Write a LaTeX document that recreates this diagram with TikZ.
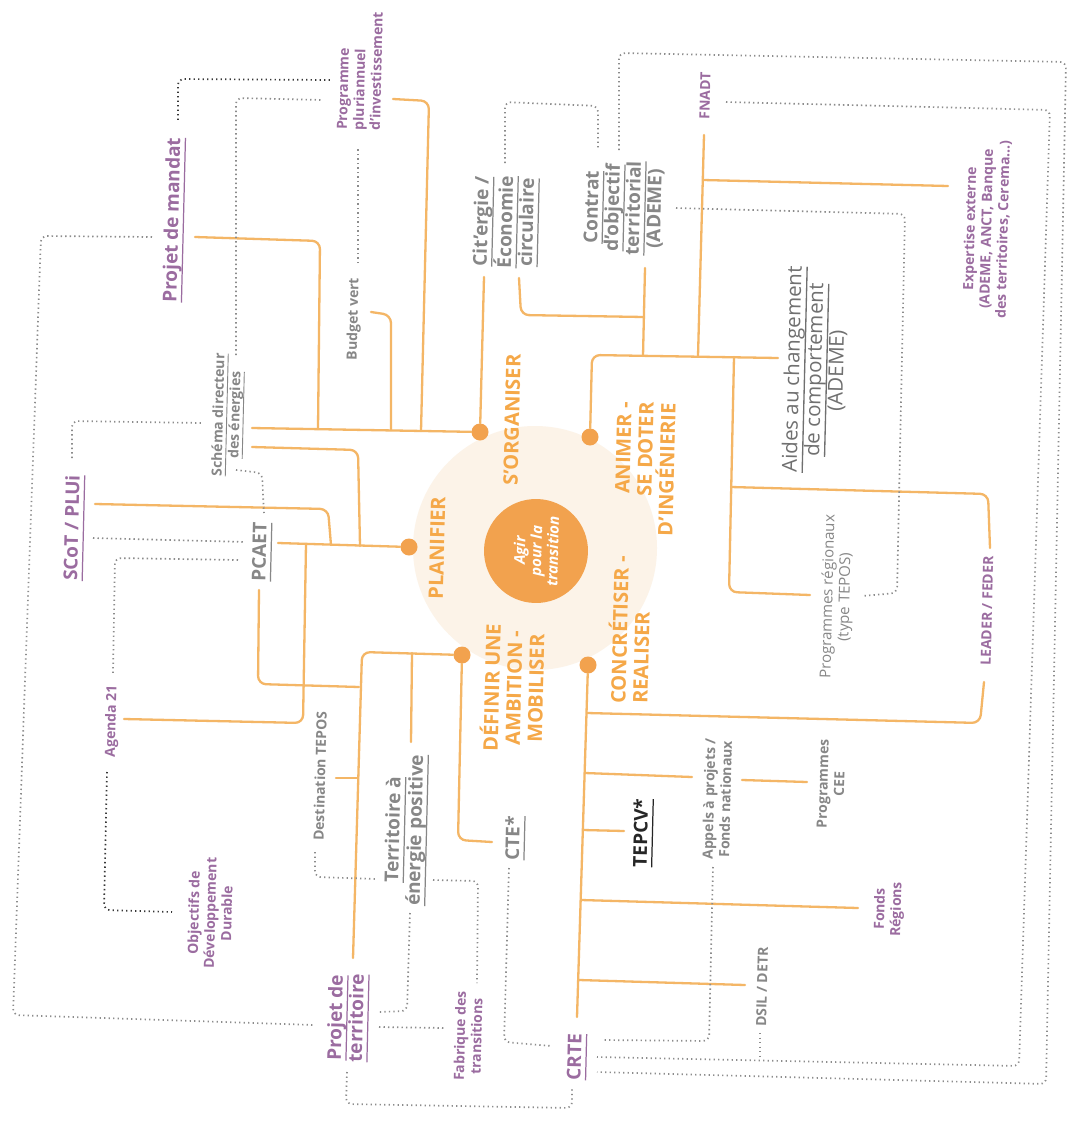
\documentclass[tikz,border=0pt]{standalone}
\usepackage{fontspec}
\setmainfont{Open Sans}
\definecolor{lineor}{RGB}{244,182,102}
\definecolor{hubcol}{RGB}{242,162,78}
\definecolor{hubtxt}{RGB}{245,168,72}
\definecolor{discfill}{RGB}{252,243,232}
\definecolor{purp}{RGB}{155,108,160}
\definecolor{graytxt}{RGB}{135,135,135}
\definecolor{aidestxt}{RGB}{112,112,112}
\definecolor{dotgray}{RGB}{140,140,140}
\definecolor{dotdark}{RGB}{55,55,55}
\newsavebox\ulbox
\newcommand\uln[1]{\sbox\ulbox{#1}\rlap{\rule[-.3em]{\wd\ulbox}{.065em}}\usebox\ulbox}
\begin{document}
\begin{tikzpicture}[x=1pt,y=-1pt,
  ol/.style={draw=lineor,line width=2.3pt,rounded corners=8pt,line cap=round},
  dl/.style={draw=dotgray,line width=1.7pt,dash pattern=on 1.3pt off 3.2pt,rounded corners=6pt},
  kl/.style={dl,draw=dotdark},
  lab/.style={rotate=88.6,inner sep=0pt,anchor=center},
  pbig/.style={lab,text=purp,align=center,font=\fontsize{19}{21}\selectfont\bfseries},
  psmall/.style={lab,text=purp,align=center,font=\fontsize{14}{16.5}\selectfont\bfseries},
  gbig/.style={lab,text=graytxt,align=center,font=\fontsize{19}{21}\selectfont\bfseries},
  gsmall/.style={lab,text=graytxt,align=center,font=\fontsize{14}{16.5}\selectfont\bfseries},
  hubl/.style={lab,text=hubtxt,font=\fontsize{20}{22}\selectfont\bfseries},
  dot/.style={circle,fill=hubcol,minimum size=17pt,inner sep=0pt}
]
\useasboundingbox (0,0) rectangle (1077,1121);
\fill[white] (0,0) rectangle (1077,1121);

% ---------- central hub ----------
\fill[discfill] (535,548) circle (122pt);
\node[circle,fill=hubcol,minimum size=104pt,inner sep=0pt,rotate=88.6,text=white,align=center,
      font=\fontsize{15}{16.5}\selectfont\bfseries\itshape] (hub) at (536,551) {Agir\\pour la\\transition};

\node[dot] (dS) at (480,432) {};
\node[dot] (dA) at (590,437) {};
\node[dot] (dP) at (409,547) {};
\node[dot] (dD) at (462,655) {};
\node[dot] (dC) at (588,665) {};

\node[hubl] (tS) at (512,420) {S'ORGANISER};
\node[hubl] (tP) at (437,548) {PLANIFIER};
\node[hubl,align=right] (tA) at (645,469) {ANIMER -\\SE DOTER\\D'INGÉNIERIE};
\node[hubl,align=left] (tC) at (629,630) {CONCRÉTISER -\\REALISER};
\node[hubl,align=center] (tD) at (512,688) {DÉFINIR UNE\\AMBITION -\\MOBILISER};

% ---------- labels ----------
\node[pbig] (mandat) at (174,220) {\uln{Projet de mandat}};
\node[pbig] (scot) at (74,528) {\uln{SCoT / PLUi}};
\node[pbig] (ptert) at (348,1018) {\uln{Projet de}\\\uln{territoire}};
\node[pbig] (crte) at (577,1057) {\uln{CRTE}};

\node[psmall,align=left] (ppi) at (360,71) {Programme\\pluriannuel\\d'investissement};
\node[psmall] (fnadt) at (705,96) {FNADT};
\node[psmall] (expert) at (987,229) {Expertise externe\\(ADEME, ANCT, Banque\\des territoires, Cerema...)};
\node[psmall] (leader) at (987,611) {LEADER / FEDER};
\node[psmall] (fonds) at (889,909) {Fonds\\Régions};
\node[psmall] (fab) at (468,1036) {Fabrique des\\transitions};
\node[psmall] (odd) at (210,913) {Objectifs de\\Développement\\Durable};
\node[psmall] (agenda) at (112,721) {Agenda 21};

\node[gbig] (pcaet) at (262,552) {\uln{PCAET}};
\node[gbig] (cit) at (506,222) {\uln{Cit'ergie /}\\\uln{Économie}\\\uln{circulaire}};
\node[gbig] (cot) at (624,208) {\uln{Contrat}\\\uln{d'objectif}\\\uln{territorial}\\(ADEME)};
\node[gbig,font=\fontsize{19}{22}\selectfont\bfseries] (tep) at (406,830) {\uln{Territoire à}\\\uln{énergie positive}};
\node[gbig] (cte) at (515,838) {\uln{CTE*}};
\node[lab,text=aidestxt,align=center,font=\fontsize{20.5}{22}\selectfont] (aides) at (815,370)
     {\uln{Aides au changement}\\\uln{de comportement}\\(ADEME)};

\node[gsmall] (sde) at (228,415) {\uln{Schéma directeur}\\\uln{des énergies}};
\node[gsmall] (budget) at (354,319) {Budget vert};
\node[gsmall] (dest) at (320,776) {Destination TEPOS};
\node[gsmall] (appels) at (717,799) {Appels à projets /\\Fonds nationaux};
\node[gsmall] (cee) at (831,784) {Programmes\\CEE};
\node[gsmall] (dsil) at (762,987) {DSIL / DETR};
\node[lab,text=graytxt,align=center,font=\fontsize{15}{17}\selectfont] (progreg) at (837,597)
     {Programmes régionaux\\(type TEPOS)};
\node[lab,text=black!85,font=\fontsize{19}{21}\selectfont\bfseries] (tepcv) at (643,833) {\uln{TEPCV*}};

% ---------- orange branches: S'ORGANISER ----------
\coordinate (sLeft) at (252,428);
\coordinate (mandatEnd) at (195,237);  \coordinate (jMandat) at (318,429);
\coordinate (budgetEnd) at (371,312);  \coordinate (jBudget) at (391,430);
\coordinate (ppiEnd) at (393,99);      \coordinate (jPpi) at (421,431);
\coordinate (citEnd) at (484,277);
\draw[ol] (sLeft) -- (dS);
\draw[ol] (mandatEnd) -- (320,241) -- (jMandat);
\draw[ol] (budgetEnd) -- (391,315) -- (jBudget);
\draw[ol] (ppiEnd) -- (429,101) -- (jPpi);
\draw[ol] (citEnd) -- (dS);

% ---------- orange branches: ANIMER ----------
\coordinate (aidesEnd) at (778,358);
\coordinate (citHook) at (519,278);    \coordinate (jCit) at (644,317);
\coordinate (cotEnd) at (645,268);     \coordinate (jCot) at (643,356);
\coordinate (fnadtEnd) at (704,135);   \coordinate (jFnadt) at (698,356);
\coordinate (jExp) at (703,180);       \coordinate (expEnd) at (948,186);
\coordinate (jProgReg) at (734,357);   \coordinate (progRegEnd) at (810,595);
\coordinate (jLeader) at (731,487);    \coordinate (leaderTop) at (990,548);
\draw[ol] (dA) -- (592,355) -- (aidesEnd);
\draw[ol] (citHook) -- (521,315) -- (jCit);
\draw[ol] (cotEnd) -- (jCot);
\draw[ol] (fnadtEnd) -- (jFnadt);
\draw[ol] (jExp) -- (expEnd);
\draw[ol] (jProgReg) -- (729,592) -- (progRegEnd);
\draw[ol] (jLeader) -- (988,494) -- (leaderTop);

% ---------- orange branches: PLANIFIER ----------
\coordinate (pcaetR) at (278,543);
\coordinate (sdeEnd) at (252,447);     \coordinate (jSde) at (360,546);
\coordinate (scotEnd) at (95,504);     \coordinate (jScot) at (331,545);
\coordinate (agendaEnd) at (124,719);  \coordinate (jAgenda) at (306,544);
\draw[ol] (pcaetR) -- (dP);
\draw[ol] (sdeEnd) -- (358,450) -- (jSde);
\draw[ol] (scotEnd) -- (328,509) -- (jScot);
\draw[ol] (agendaEnd) -- (303,723) -- (jAgenda);

% ---------- orange branches: DEFINIR ----------
\coordinate (ptEnd) at (353,958);
\coordinate (cteEnd) at (492,842);
\coordinate (jTep) at (412,653);       \coordinate (tepEnd) at (411,742);
\coordinate (destEnd) at (336,778);    \coordinate (jDest) at (358,778);
\coordinate (pcaetB) at (259,590);     \coordinate (jPcaetB) at (359,687);
\draw[ol] (dD) -- (362,652) -- (ptEnd);
\draw[ol] (dD) -- (458,840) -- (cteEnd);
\draw[ol] (jTep) -- (tepEnd);
\draw[ol] (destEnd) -- (jDest);
\draw[ol] (pcaetB) -- (258,684) -- (jPcaetB);

% ---------- orange branches: CONCRETISER ----------
\coordinate (crteTop) at (577,1017);
\coordinate (jLeader2) at (587,713);   \coordinate (leaderBot) at (984,682);
\coordinate (jAppels) at (585,773);    \coordinate (appelsEnd) at (692,777);
\coordinate (ceeL) at (742,780);       \coordinate (ceeR) at (807,782);
\coordinate (jTepcv) at (583,830);     \coordinate (tepcvEnd) at (624,831);
\coordinate (jFonds) at (581,900);     \coordinate (fondsEnd) at (858,908);
\coordinate (jDsil) at (579,980);      \coordinate (dsilEnd) at (745,985);
\draw[ol] (dC) -- (crteTop);
\draw[ol] (jLeader2) -- (980,723) -- (leaderBot);
\draw[ol] (jAppels) -- (appelsEnd);
\draw[ol] (ceeL) -- (ceeR);
\draw[ol] (jTepcv) -- (tepcvEnd);
\draw[ol] (jFonds) -- (fondsEnd);
\draw[ol] (jDsil) -- (dsilEnd);

% ---------- dotted links ----------
\coordinate (mandatTop) at (178,120);  \coordinate (ppiL) at (330,80);
\draw[kl] (mandatTop) -- (178,79) -- (ppiL);
\coordinate (sdeTop) at (236,355);     \coordinate (ppiL2) at (322,100);
\draw[dl] (sdeTop) -- (236,98) -- (ppiL2);
\coordinate (budgetTop) at (358,263);  \coordinate (ppiB) at (358,147);
\draw[dl] (budgetTop) -- (ppiB);
\coordinate (citTop) at (505,163);     \coordinate (cotTop1) at (598,150);
\draw[dl] (citTop) -- (505,102) -- (598,106) -- (cotTop1);
\coordinate (cotTop2) at (619,150);    \coordinate (crteR3) at (597,1072);
\draw[dl] (cotTop2) -- (619,53) -- (1066,62) -- (1046,1084) -- (crteR3);
\coordinate (fnadtR) at (726,102);     \coordinate (crteR2) at (597,1057);
\draw[dl] (fnadtR) -- (1050,110) -- (1019,1066) -- (crteR2);
\coordinate (cotR) at (676,208);       \coordinate (progRegR) at (862,596);
\draw[dl] (cotR) -- (905,214) -- (897,593) -- (progRegR);
\coordinate (dsilB) at (760,1033);     \coordinate (dsilJ) at (760,1059);
\draw[dl] (dsilB) -- (dsilJ);
\coordinate (appelsB) at (713,867);    \coordinate (crteR1) at (602,1040);
\draw[dl] (appelsB) -- (709,1041) -- (crteR1);
\coordinate (cteB) at (509,868);       \coordinate (crteL) at (552,1046);
\draw[dl] (cteB) -- (504,1042) -- (crteL);
\coordinate (ptB) at (347,1072);       \coordinate (crteB) at (572,1088);
\draw[dl] (ptB) -- (346,1104) -- (572,1108) -- (crteB);
\coordinate (ptR2) at (379,1027);      \coordinate (fabL) at (445,1028);
\draw[dl] (ptR2) -- (fabL);
\coordinate (tepB) at (410,913);       \coordinate (ptR1) at (378,1012);
\draw[dl] (tepB) -- (407,1011) -- (ptR1);
\coordinate (tepR) at (433,880);       \coordinate (fabTop) at (477,983);
\draw[dl] (tepR) -- (478,881) -- (fabTop);
\coordinate (destB) at (315,852);      \coordinate (tepL) at (378,879);
\draw[dl] (destB) -- (315,877) -- (tepL);
\coordinate (pcaetL) at (238,560);     \coordinate (agendaTop) at (113,673);
\draw[dl] (pcaetL) -- (115,558) -- (agendaTop);
\coordinate (scotR) at (93,538);       \coordinate (pcaetL2) at (245,542);
\draw[dl] (scotR) -- (pcaetL2);
\coordinate (scotTop) at (72,458);     \coordinate (sdeL) at (202,423);
\draw[dl] (scotTop) -- (72,421) -- (sdeL);
\coordinate (sdeB) at (236,470);       \coordinate (pcaetTop) at (264,513);
\draw[dl] (sdeB) -- (262,473) -- (pcaetTop);
\coordinate (mandatL) at (152,237);    \coordinate (ptL) at (314,1025);
\draw[dl] (mandatL) -- (41,236) -- (13,1015) -- (ptL);
\coordinate (agendaB) at (107,772);    \coordinate (oddL) at (172,912);
\draw[kl] (agendaB) -- (104,910) -- (oddL);
\end{tikzpicture}
\end{document}
